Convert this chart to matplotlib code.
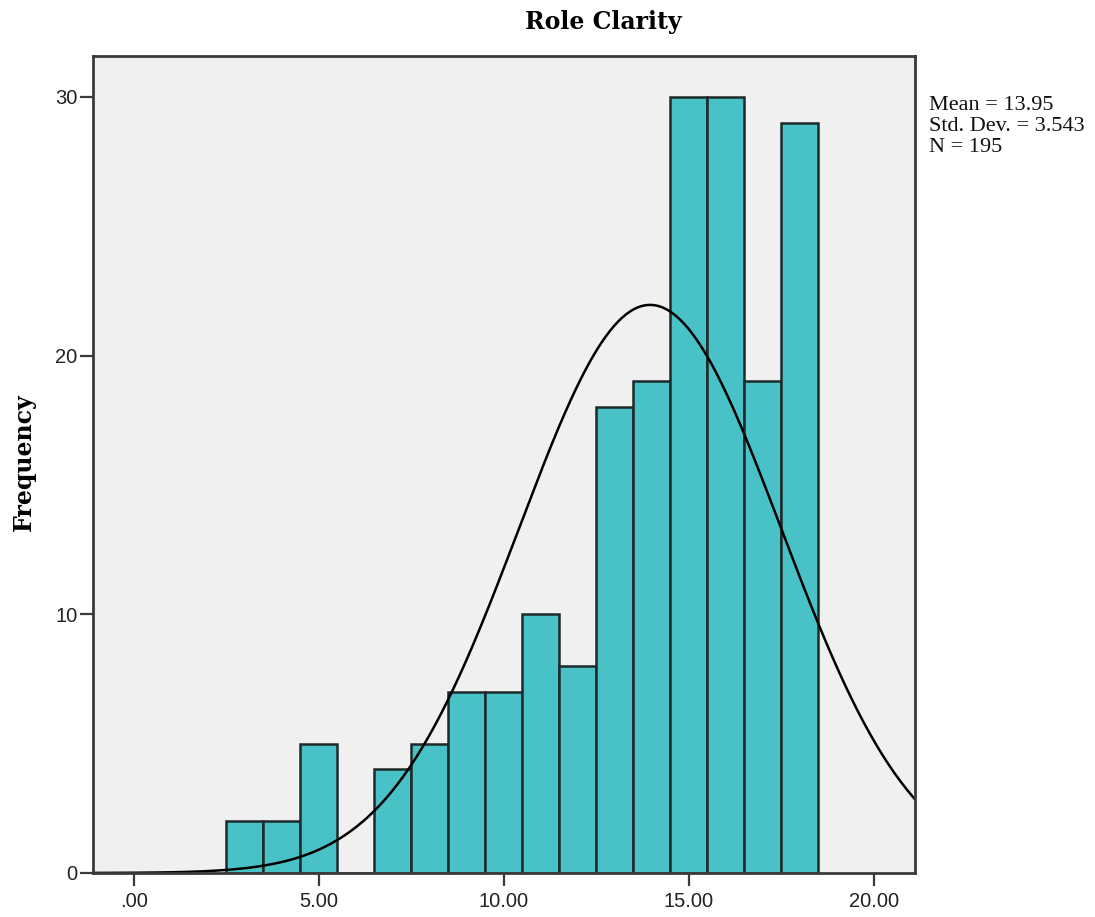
import numpy as np
import matplotlib
matplotlib.use("Agg")
import matplotlib.pyplot as plt

# histogram of the Role Clarity scale, bins of width 1
bin_centers = [3, 4, 5, 6, 7, 8, 9, 10, 11, 12, 13, 14, 15, 16, 17, 18]
counts = [2, 2, 5, 0, 4, 5, 7, 7, 10, 8, 18, 19, 30, 30, 19, 29]
bin_width = 1.0

mean_val = 13.95
std_val = 3.543
n_val = 195

xticks = [0, 5, 10, 15, 20]
xtick_labels = [".00", "5.00", "10.00", "15.00", "20.00"]
yticks = [0, 10, 20, 30]

bar_color = "#48C2C6"
edge_color = "#1e2a2a"
frame_color = "#3a3a3a"

fig = plt.figure(figsize=(10.95, 9.17), dpi=100)
ax = fig.add_axes([0.0849, 0.048, 0.7507, 0.891])
ax.set_facecolor("#F0F0F0")

ax.bar(bin_centers, counts, width=bin_width, color=bar_color,
       edgecolor=edge_color, linewidth=1.8, zorder=2)

# normal curve scaled to the counts
xmin, xmax = -1.108, 21.11
xs = np.linspace(xmin, xmax, 400)
ys = n_val * bin_width / (std_val * np.sqrt(2 * np.pi)) * \
     np.exp(-0.5 * ((xs - mean_val) / std_val) ** 2)
ax.plot(xs, ys, color="black", linewidth=1.8, zorder=3)

ax.set_xlim(xmin, xmax)
ax.set_ylim(0, 31.58)
ax.set_xticks(xticks)
ax.set_xticklabels(xtick_labels)
ax.set_yticks(yticks)

for sp in ax.spines.values():
    sp.set_color(frame_color)
    sp.set_linewidth(2.0)
    sp.set_zorder(4)

ax.tick_params(axis="x", direction="out", length=9.5, width=1.6,
               color=frame_color, pad=4.5, labelsize=14.5, labelcolor="#222222")
ax.tick_params(axis="y", direction="out", length=9.5, width=1.6,
               color=frame_color, pad=1.5, labelsize=14.5, labelcolor="#222222")
for lab in ax.get_xticklabels() + ax.get_yticklabels():
    lab.set_family("Liberation Sans")

fig.text(0.551, 0.976, "Role Clarity", ha="center", va="center",
         family="DejaVu Serif", fontweight="bold", fontsize=17)
fig.text(0.022, 0.496, "Frequency", ha="center", va="center", rotation=90,
         family="DejaVu Serif", fontweight="bold", fontsize=17)

stats = "Mean = %.2f\nStd. Dev. = %.3f\nN = %d" % (mean_val, std_val, n_val)
fig.text(0.848, 0.895, stats, ha="left", va="top", family="Liberation Serif",
         fontsize=16, linespacing=1.15, color="#111111")

fig.savefig("out.png", dpi=100, facecolor="white")
